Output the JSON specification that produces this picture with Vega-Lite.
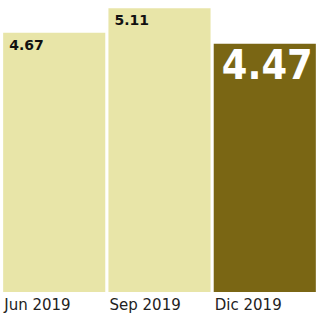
{
  "$schema": "https://vega.github.io/schema/vega-lite/v6.json",
  "width": 319,
  "height": 292,
  "autosize": {"type": "none"},
  "padding": {"left": 0, "top": 0, "right": 0, "bottom": 23},
  "background": "white",
  "data": {"values": [
    {"month": "Jun 2019", "value": 4.67},
    {"month": "Sep 2019", "value": 5.11},
    {"month": "Dic 2019", "value": 4.47}
  ]},
  "encoding": {
    "x": {
      "field": "month", "type": "nominal",
      "sort": ["Jun 2019", "Sep 2019", "Dic 2019"],
      "scale": {"paddingInner": 0.03, "paddingOuter": 0.03},
      "axis": {
        "title": null, "domain": false, "ticks": false, "grid": false,
        "labelAngle": 0, "labelAlign": "left", "labelOffset": -50,
        "labelFont": "DejaVu Sans", "labelFontSize": 15, "labelColor": "#222222",
        "labelPadding": 5
      }
    },
    "y": {"field": "value", "type": "quantitative", "scale": {"domain": [0, 5.26]}, "axis": null}
  },
  "layer": [
    {
      "mark": {"type": "bar"},
      "encoding": {
        "color": {
          "condition": {"test": "datum.month === 'Dic 2019'", "value": "#7a6614"},
          "value": "#e8e5a8"
        }
      }
    },
    {
      "transform": [{"filter": "datum.month !== 'Dic 2019'"}],
      "mark": {"type": "text", "align": "left", "baseline": "top", "dx": 6, "dy": 6,
               "font": "DejaVu Sans", "fontWeight": "bold", "fontSize": 14, "color": "#111111"},
      "encoding": {
        "x": {"field": "month", "type": "nominal", "sort": ["Jun 2019", "Sep 2019", "Dic 2019"], "bandPosition": 0},
        "text": {"field": "value", "type": "quantitative", "format": ".2f"}
      }
    },
    {
      "transform": [{"filter": "datum.month === 'Dic 2019'"}],
      "mark": {"type": "text", "align": "left", "baseline": "top", "dx": 8, "dy": 3,
               "font": "DejaVu Sans Condensed", "fontWeight": "bold", "fontSize": 41, "color": "#ffffff"},
      "encoding": {
        "x": {"field": "month", "type": "nominal", "sort": ["Jun 2019", "Sep 2019", "Dic 2019"], "bandPosition": 0},
        "text": {"field": "value", "type": "quantitative", "format": ".2f"}
      }
    }
  ],
  "config": {"view": {"stroke": null}}
}
